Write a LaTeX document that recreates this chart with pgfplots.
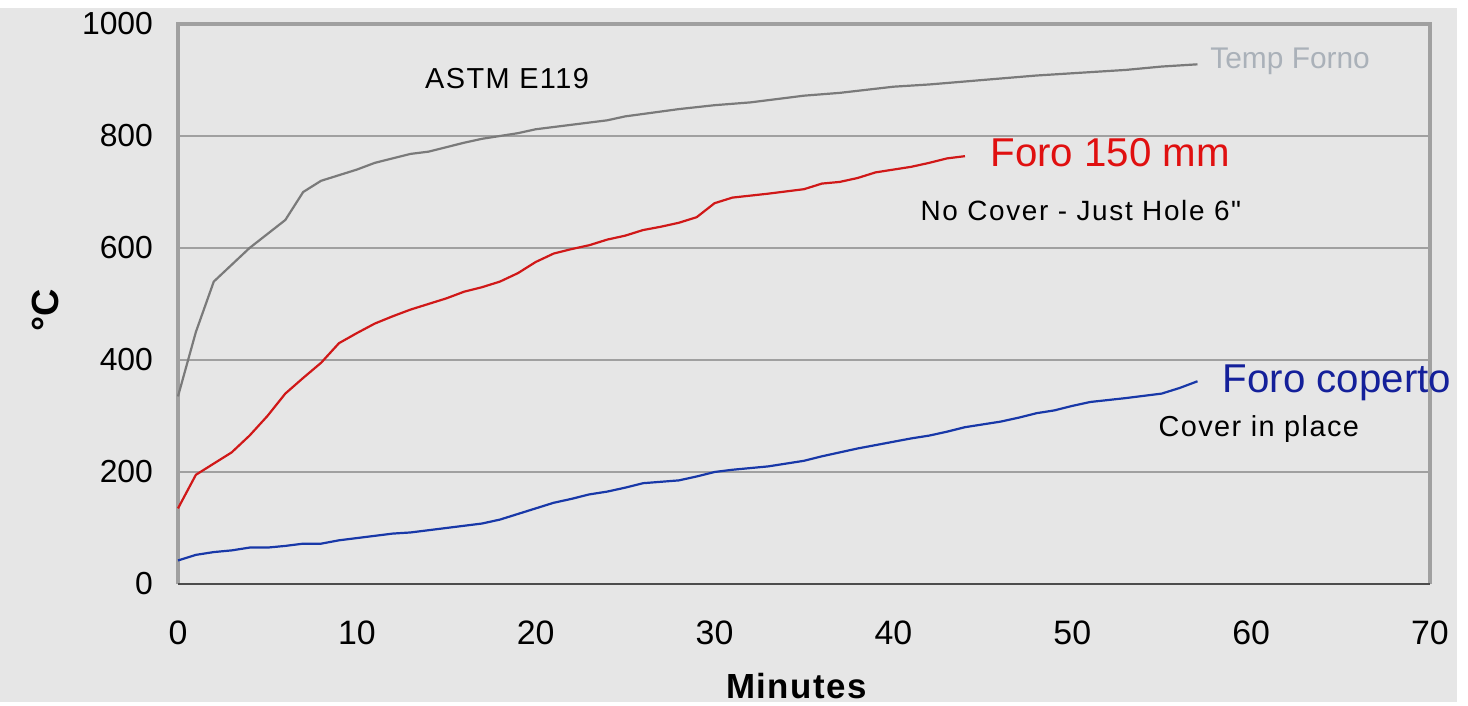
\documentclass[border=0pt]{standalone}
\usepackage{fontspec}
\setmainfont{Liberation Sans}
\newfontfamily\nolig[LetterSpace=6]{Liberation Sans}
\usepackage{pgfplots}
\pgfplotsset{compat=1.18}
\definecolor{bg}{HTML}{E6E6E6}
\definecolor{frame}{HTML}{A0A0A0}
\definecolor{fornoline}{HTML}{7A7A7A}
\definecolor{fornotext}{HTML}{AAB1B9}
\definecolor{redline}{HTML}{D01818}
\definecolor{redtext}{HTML}{E01010}
\definecolor{blueline}{HTML}{1838A8}
\definecolor{bluetext}{HTML}{14209A}
\begin{document}
\begin{tikzpicture}
\fill[white] (-89bp,-59bp) rectangle (645bp,292bp);
\fill[bg] (-89bp,-59bp) rectangle (639.5bp,288bp);
\begin{axis}[
  scale only axis, width=626bp, height=280bp,
  xmin=0, xmax=70, ymin=0, ymax=1000,
  xtick={0,10,...,70}, ytick={0,200,...,1000},
  major tick length=0pt,
  axis line style={draw=none},
  ymajorgrids, grid style={frame, line width=1bp},
  clip=false,
  /pgf/number format/assume math mode=true,
  /pgf/number format/1000 sep={},
  ticklabel style={font=\fontsize{16}{18}\selectfont},
  yticklabel style={xshift=-9bp},
  xticklabel style={yshift=-15bp, font=\fontsize{17}{19}\selectfont},
  xlabel={\bfseries Minutes}, ylabel={\bfseries °C},
  xlabel style={font=\fontsize{17.5}{19}\selectfont\addfontfeature{LetterSpace=4}, at={(axis description cs:0.494,-0.182)}, anchor=center},
  ylabel style={font=\fontsize{19}{21}\selectfont, at={(axis description cs:-0.106,0.489)}, anchor=center},
]
\draw[frame, line width=1.6bp] (rel axis cs:0,0) -- (rel axis cs:0,1) -- (rel axis cs:1,1) -- (rel axis cs:1,0);
\draw[black!70, line width=1.2bp] (rel axis cs:0,0) -- (rel axis cs:1,0);
\addplot[fornoline, line width=1.1bp] coordinates {
(0,335) (1,450) (2,540) (3,570) (4,600) (5,625) (6,650) (7,700) (8,720) (9,730) (10,740) (11,752) (12,760) (13,768) (14,772) (15,780) (16,788) (17,795) (18,800) (19,805) (20,812) (22,820) (24,828) (25,835) (28,848) (30,855) (32,860) (35,872) (37,877) (40,888) (42,892) (45,900) (48,908) (50,912) (53,918) (55,924) (57,928)};
\addplot[redline, line width=1.1bp] coordinates {
(0,135) (1,195) (2,215) (3,235) (4,265) (5,300) (6,340) (7,368) (8,395) (9,430) (10,448) (11,465) (12,478) (13,490) (14,500) (15,510) (16,522) (17,530) (18,540) (19,555) (20,575) (21,590) (22,598) (23,605) (24,615) (25,622) (26,632) (27,638) (28,645) (29,655) (30,680) (31,690) (33,697) (35,705) (36,715) (37,718) (38,725) (39,735) (40,740) (41,745) (42,752) (43,760) (44,764)};
\addplot[blueline, line width=1.1bp] coordinates {
(0,42) (1,52) (2,57) (3,60) (4,65) (5,65) (6,68) (7,72) (8,72) (9,78) (10,82) (11,86) (12,90) (13,92) (14,96) (15,100) (17,108) (18,115) (19,125) (20,135) (21,145) (22,152) (23,160) (24,165) (25,172) (26,180) (28,185) (29,192) (30,200) (31,204) (33,210) (35,220) (36,228) (37,235) (38,242) (39,248) (40,254) (41,260) (42,265) (43,272) (44,280) (45,285) (46,290) (47,297) (48,305) (49,310) (50,318) (51,325) (53,332) (55,340) (56,350) (57,362)};
\node[anchor=west, text=fornotext, font=\fontsize{15}{17}\selectfont, inner sep=0pt] at (axis cs:57.7,934) {Temp Forno};
\node[anchor=west, text=redtext, font=\fontsize{20.2}{23}\selectfont, inner sep=0pt] at (axis cs:45.4,770) {Foro 150 mm};
\node[anchor=west, text=black, font=\fontsize{14}{16}\selectfont\nolig, inner sep=0pt] at (axis cs:41.5,667) {No Cover - Just Hole 6"};
\node[anchor=west, text=bluetext, font=\fontsize{20.2}{23}\selectfont, inner sep=0pt] at (axis cs:58.4,360) {Foro coperto};
\node[anchor=west, text=black, font=\fontsize{14.5}{16}\selectfont\addfontfeature{LetterSpace=5}, inner sep=0pt] at (axis cs:54.8,276) {Cover in place};
\node[anchor=west, text=black, font=\fontsize{14.5}{16}\selectfont\addfontfeature{LetterSpace=5}, inner sep=0pt] at (axis cs:13.8,902) {ASTM E119};
\end{axis}
\end{tikzpicture}
\end{document}
